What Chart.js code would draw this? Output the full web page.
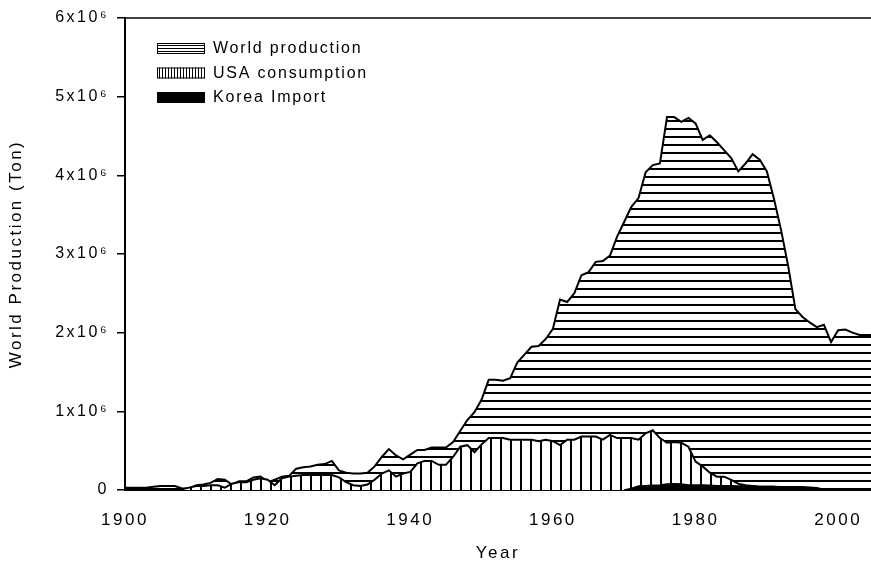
<!DOCTYPE html>
<html>
<head>
<meta charset="utf-8">
<script src="https://cdn.jsdelivr.net/npm/chart.js@4"></script>
<style>
  body { margin: 0; background: #fff; }
  canvas { display: block; }
</style>
</head>
<body>
<canvas id="chart" width="871" height="567"></canvas>
<script>
// values in 10^6 tons
const years = [
  1900, 1901, 1902, 1903, 1904, 1905, 1906, 1907, 1908, 1909,
  1910, 1911, 1912, 1913, 1914, 1915, 1916, 1917, 1918, 1919,
  1920, 1921, 1922, 1923, 1924, 1925, 1926, 1927, 1928, 1929,
  1930, 1931, 1932, 1933, 1934, 1935, 1936, 1937, 1938, 1939,
  1940, 1941, 1942, 1943, 1944, 1945, 1946, 1947, 1948, 1949,
  1950, 1951, 1952, 1953, 1954, 1955, 1956, 1957, 1958, 1959,
  1960, 1961, 1962, 1963, 1964, 1965, 1966, 1967, 1968, 1969,
  1970, 1971, 1972, 1973, 1974, 1975, 1976, 1977, 1978, 1979,
  1980, 1981, 1982, 1983, 1984, 1985, 1986, 1987, 1988, 1989,
  1990, 1991, 1992, 1993, 1994, 1995, 1996, 1997, 1998, 1999,
  2000, 2001, 2002, 2003, 2004, 2005
];

const worldProduction = [
  0.03, 0.03, 0.03, 0.03, 0.04, 0.05, 0.05, 0.05, 0.02, 0.02,
  0.06, 0.07, 0.09, 0.14, 0.13, 0.07, 0.11, 0.11, 0.16, 0.17,
  0.10, 0.13, 0.17, 0.18, 0.27, 0.29, 0.30, 0.32, 0.33, 0.37,
  0.25, 0.22, 0.21, 0.21, 0.22, 0.30, 0.42, 0.52, 0.44, 0.39,
  0.45, 0.51, 0.51, 0.54, 0.54, 0.54, 0.61, 0.75, 0.89, 0.99,
  1.15, 1.40, 1.40, 1.39, 1.42, 1.62, 1.72, 1.82, 1.83, 1.92,
  2.05, 2.42, 2.39, 2.50, 2.73, 2.77, 2.90, 2.91, 2.98, 3.22,
  3.41, 3.60, 3.71, 4.04, 4.13, 4.15, 4.74, 4.74, 4.68, 4.73,
  4.66, 4.45, 4.51, 4.42, 4.32, 4.22, 4.05, 4.15, 4.27, 4.20,
  4.05, 3.70, 3.30, 2.84, 2.30, 2.20, 2.13, 2.07, 2.10, 1.88,
  2.03, 2.04, 2.00, 1.97, 1.97, 1.97
];

const usaConsumption = [
  0.005, 0.005, 0.005, 0.005, 0.005, 0.01, 0.01, 0.01, 0.01, 0.03,
  0.05, 0.05, 0.06, 0.06, 0.03, 0.08, 0.10, 0.10, 0.13, 0.15,
  0.13, 0.06, 0.15, 0.17, 0.18, 0.19, 0.19, 0.19, 0.19, 0.19,
  0.16, 0.10, 0.06, 0.05, 0.07, 0.13, 0.21, 0.25, 0.17, 0.21,
  0.23, 0.34, 0.37, 0.37, 0.32, 0.32, 0.42, 0.55, 0.57, 0.48,
  0.58, 0.66, 0.66, 0.66, 0.64, 0.64, 0.64, 0.64, 0.62, 0.64,
  0.62, 0.57, 0.64, 0.64, 0.68, 0.68, 0.68, 0.64, 0.70, 0.66,
  0.66, 0.66, 0.64, 0.72, 0.76, 0.66, 0.60, 0.61, 0.60, 0.55,
  0.36, 0.30, 0.22, 0.17, 0.17, 0.13, 0.08, 0.06, 0.05, 0.04,
  0.04, 0.04, 0.03, 0.03, 0.03, 0.02, 0.02, 0.02, 0.01, 0,
  0, 0, 0, 0, 0, 0
];

const koreaImport = [
  null, null, null, null, null, null, null, null, null, null,
  null, null, null, null, null, null, null, null, null, null,
  null, null, null, null, null, null, null, null, null, null,
  null, null, null, null, null, null, null, null, null, null,
  null, null, null, null, null, null, null, null, null, null,
  null, null, null, null, null, null, null, null, null, null,
  null, null, null, null, null, null, null, null, null, null,
  0, 0.02, 0.05, 0.055, 0.06, 0.065, 0.075, 0.08, 0.075, 0.065,
  0.065, 0.065, 0.06, 0.055, 0.055, 0.055, 0.05, 0.05, 0.05, 0.045,
  0.045, 0.045, 0.04, 0.04, 0.04, 0.04, 0.035, 0.03, 0, null,
  null, null, null, null, null, null
];

const seriesLabels = ["World production", "USA consumption", "Korea Import"];
const yTicks = [0, 1, 2, 3, 4, 5, 6];
const xTicks = [1900, 1920, 1940, 1960, 1980, 2000];

const FONT = "'Liberation Sans', Arial, sans-serif";
const SPACING = "2.5px";

function makePattern(w, h, draw) {
  const c = document.createElement("canvas");
  c.width = w;
  c.height = h;
  const g = c.getContext("2d");
  g.fillStyle = "#fff";
  g.fillRect(0, 0, w, h);
  g.fillStyle = "#000";
  draw(g);
  return document.getElementById("chart").getContext("2d").createPattern(c, "repeat");
}

const hLines = makePattern(8, 8, g => g.fillRect(0, 0, 8, 2));
const vLines = makePattern(10, 10, g => g.fillRect(0, 0, 2, 10));
const hLinesSmall = makePattern(4, 3, g => g.fillRect(0, 0, 4, 1));
const vLinesSmall = makePattern(3, 4, g => g.fillRect(0, 0, 1, 4));

function toPoints(vals) {
  return years.map((yr, i) => ({ x: yr, y: vals[i] }));
}

const spacingPlugin = {
  id: "spacing",
  beforeLayout(chart) { chart.ctx.letterSpacing = SPACING; },
  beforeDraw(chart) { chart.ctx.letterSpacing = SPACING; }
};

const framePlugin = {
  id: "frame",
  afterDraw(chart) {
    const { ctx, chartArea } = chart;
    ctx.save();
    ctx.strokeStyle = "#000";
    ctx.lineWidth = 1.5;
    ctx.beginPath();
    ctx.moveTo(chartArea.left, chartArea.top);
    ctx.lineTo(chartArea.right, chartArea.top);
    ctx.stroke();
    ctx.restore();
  }
};

const legendFills = [hLinesSmall, vLinesSmall, "#000"];

const boxLegend = {
  id: "boxLegend",
  afterDraw(chart) {
    const ctx = chart.ctx;
    ctx.save();
    ctx.letterSpacing = "1.8px";
    ctx.font = "16px " + FONT;
    ctx.textBaseline = "middle";
    seriesLabels.forEach((label, i) => {
      const y = 43 + i * 24.5;
      ctx.fillStyle = legendFills[i];
      ctx.fillRect(157, y, 48, 11);
      ctx.strokeStyle = "#000";
      ctx.lineWidth = 1;
      ctx.strokeRect(157.5, y + 0.5, 47, 10);
      ctx.fillStyle = "#000";
      ctx.fillText(label, 213, y + 6);
    });
    ctx.restore();
  }
};

const common = {
  fill: "origin",
  borderColor: "#000",
  borderWidth: 2,
  pointRadius: 0,
  tension: 0,
  spanGaps: false
};

new Chart(document.getElementById("chart"), {
  type: "line",
  data: {
    datasets: [
      { ...common, label: seriesLabels[0], data: toPoints(worldProduction), backgroundColor: hLines, order: 3 },
      { ...common, label: seriesLabels[1], data: toPoints(usaConsumption), backgroundColor: vLines, order: 2 },
      { ...common, label: seriesLabels[2], data: toPoints(koreaImport), backgroundColor: "#000", borderWidth: 1.5, order: 1 }
    ]
  },
  options: {
    responsive: false,
    animation: false,
    layout: { padding: { top: 18, left: 0, right: 0, bottom: 0 } },
    plugins: {
      legend: { display: false },
      tooltip: { enabled: false }
    },
    scales: {
      x: {
        type: "linear",
        min: 1900,
        max: 2004.6,
        afterBuildTicks(scale) {
          scale.ticks = xTicks.map(v => ({ value: v }));
        },
        afterFit(scale) {
          scale.height = 77;
          scale.paddingLeft = 0;
          scale.paddingRight = 0;
        },
        grid: { display: false },
        border: { display: true, color: "#000", width: 2 },
        ticks: {
          color: "#000",
          font: { family: FONT, size: 17 },
          padding: 12,
          maxRotation: 0,
          callback: v => String(v)
        },
        title: {
          display: true,
          text: "Year",
          color: "#000",
          font: { family: FONT, size: 17 },
          padding: { top: 0, bottom: 3 }
        }
      },
      y: {
        min: 0,
        max: 6,
        afterBuildTicks(scale) {
          scale.ticks = yTicks.map(v => ({ value: v }));
        },
        afterFit(scale) { scale.width = 125; },
        grid: {
          display: true,
          drawOnChartArea: false,
          drawTicks: true,
          tickLength: 8,
          color: "#000",
          lineWidth: 1.5
        },
        border: { display: true, color: "#000", width: 2 },
        ticks: {
          color: "#000",
          font: { family: FONT, size: 16 },
          padding: 8,
          callback: v => (v === 0 ? "0" : v + "x10\u2076")
        },
        title: {
          display: true,
          text: "World Production (Ton)",
          color: "#000",
          font: { family: FONT, size: 17 },
          padding: { top: 6, bottom: 0 }
        }
      }
    }
  },
  plugins: [spacingPlugin, framePlugin, boxLegend]
});
</script>
</body>
</html>
